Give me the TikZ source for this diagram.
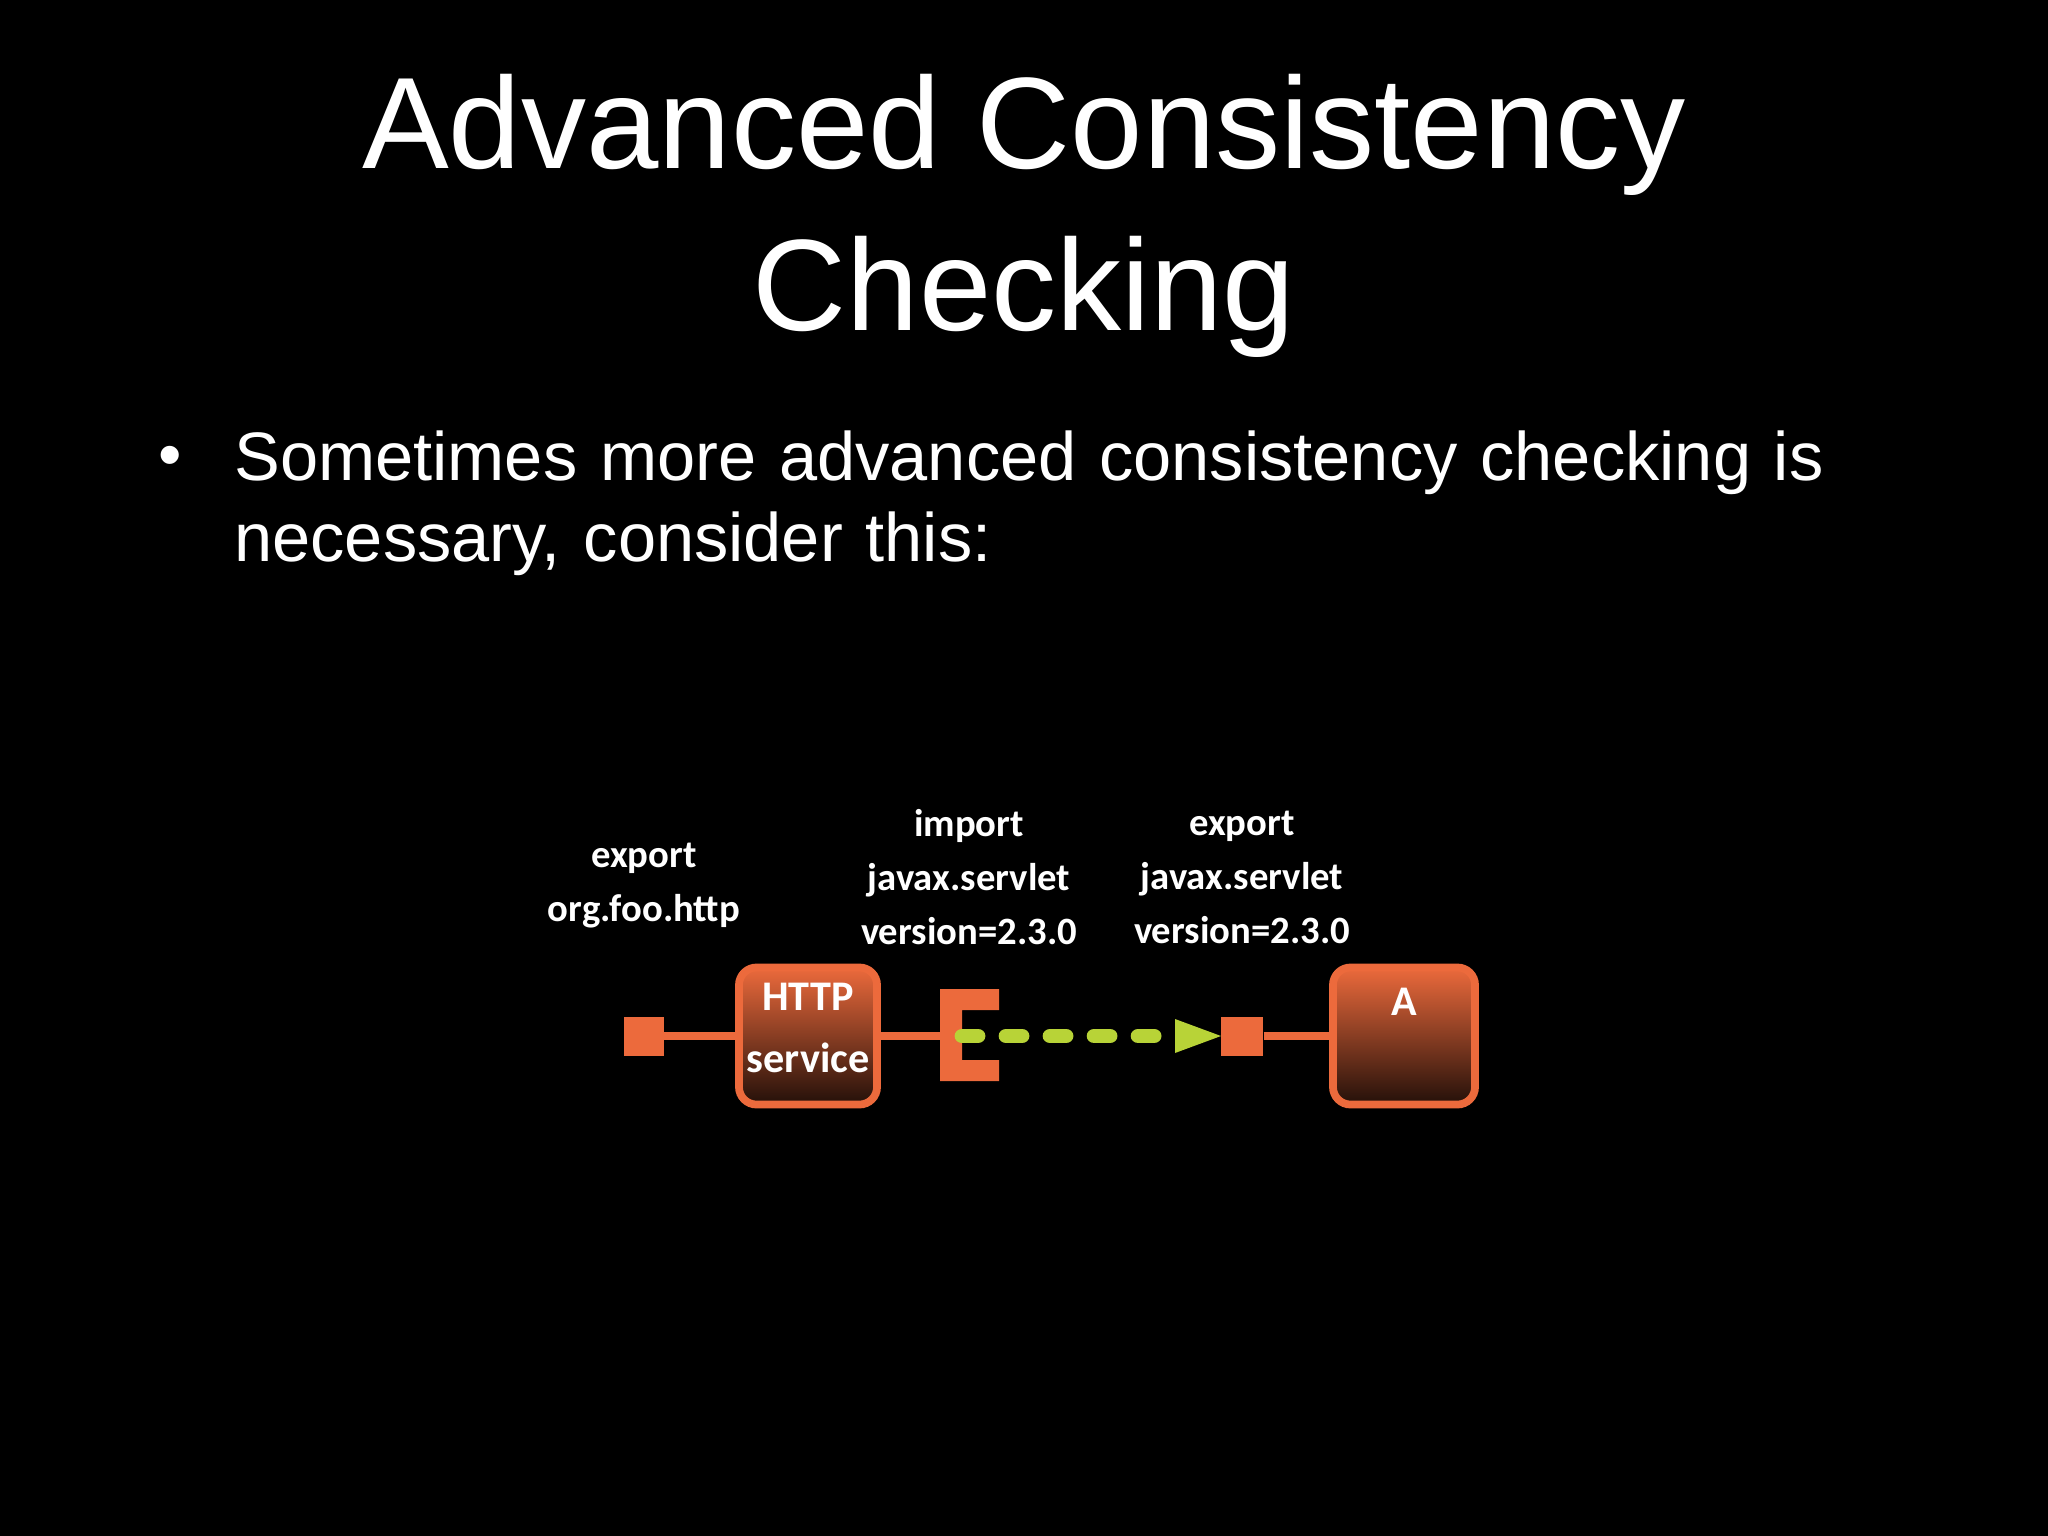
\documentclass[tikz,border=0pt]{standalone}
\usepackage{fontspec}
\setmainfont{Liberation Sans}
\newfontfamily\carl{Carlito}
\definecolor{org}{HTML}{EC6A3C}
\definecolor{grn}{HTML}{B8D337}
\begin{document}
\begin{tikzpicture}[x=0.01cm,y=-0.01cm,
  lbl/.style={text=white,font=\carl\bfseries\fontsize{11}{12.6}\selectfont,align=center},
  box/.style={draw=org,line width=2.2pt,rounded corners=5pt,top color=org,bottom color=black!85!org},
  wire/.style={org,line width=2.2pt},
  port/.style={fill=org}]
\fill[black] (0,0) rectangle (2048,1536);
\useasboundingbox (0,0) rectangle (2048,1536);
\node[text=white,font=\fontsize{37}{46}\selectfont,align=center] (title) at (1024,216) {Advanced Consistency\\Checking};
\node[text=white,font=\fontsize{19}{23}\selectfont] (bul) at (170,462) {•};
\node[text=white,font=\fontsize{19.5}{23}\selectfont,align=left,anchor=north west,text width=17cm] (txt) at (222,418) {Sometimes more advanced consistency checking is necessary, consider this:};
% diagram
\node[port,minimum width=0.39cm,minimum height=0.39cm,inner sep=0] (p1) at (644,1036) {};
\node[box,minimum width=1.38cm,minimum height=1.37cm] (http) at (808,1036) {};
\node[lbl,font=\carl\bfseries\fontsize{12}{14}\selectfont] (httpt) at (808,1028) {HTTP\\[0.3em]service};
\node[box,minimum width=1.42cm,minimum height=1.37cm] (a) at (1404,1036) {};
\node[lbl,font=\carl\bfseries\fontsize{12}{14}\selectfont] (at) at (1404,1002) {A};
\node[port,minimum width=0.42cm,minimum height=0.39cm,inner sep=0] (p2) at (1242,1036) {};
\coordinate (e) at (950,1036);
\draw[wire] (p1.east) -- (http.west);
\draw[wire] (http.east) -- (e);
\draw[wire] (p2.east) -- (a.west);
\fill[org] (940,989) rectangle (999,1010) (940,1060) rectangle (999,1081) (940,989) rectangle (962,1081);
\draw[grn,line width=4.2pt,line cap=round,dash pattern=on 0.16cm off 0.28cm] (962,1036) -- (1172,1036);
\fill[grn] (1175,1019) -- (1221,1036) -- (1175,1053) -- cycle;
\node[lbl] (l1) at (644,886) {export\\[0.25em]org.foo.http};
\node[lbl] (l2) at (969,877) {import\\[0.25em]javax.servlet\\[0.25em]version=2.3.0};
\node[lbl] (l3) at (1242,877) {export\\[0.25em]javax.servlet\\[0.25em]version=2.3.0};
\end{tikzpicture}
\end{document}
